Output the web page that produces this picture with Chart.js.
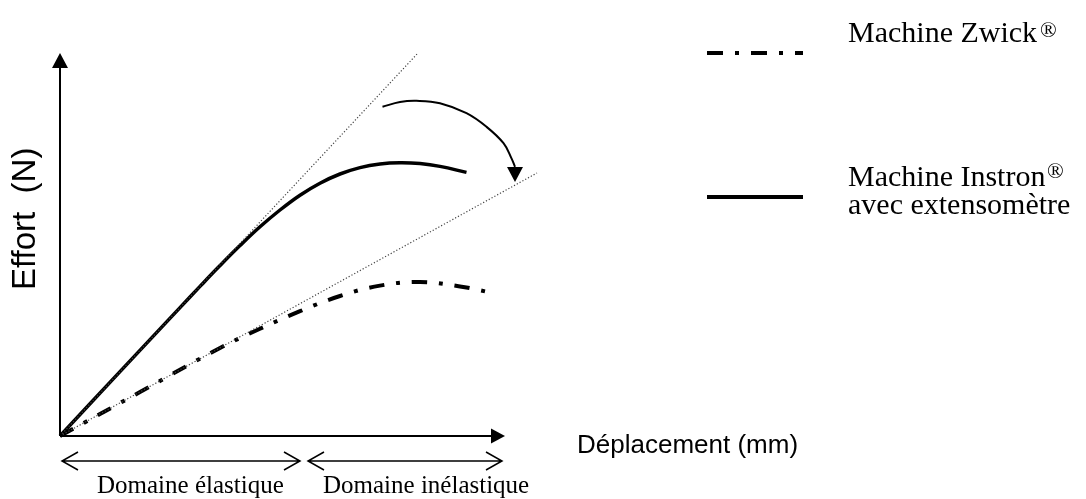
<!DOCTYPE html>
<html>
<head>
<meta charset="utf-8">
<script src="https://cdn.jsdelivr.net/npm/chart.js@4/dist/chart.umd.min.js"></script>
<style>
  body { margin: 0; background: #fff; }
</style>
</head>
<body>
<canvas id="grafico" width="1086" height="499"></canvas>
<script>
// Courbe machine Instron (avec extensomètre)
const deplacementInstron = [0, 12, 24, 28, 32, 36, 40, 44, 48, 52, 56, 60, 64, 68, 72, 76, 81.3];
const effortInstron = [0, 16.1, 32.1, 37.4, 42.6, 47.6, 52.3, 56.5, 60.2, 63.2, 65.5, 67.1, 68.0, 68.3, 68.1, 67.4, 65.9];

// Courbe machine Zwick
const deplacementZwick = [0, 16, 32, 40, 48, 56, 64, 72, 80, 86.4];
const effortZwick = [0, 11, 22, 26.8, 31.2, 35, 37.6, 38.5, 37.4, 35.8];

// Tangentes (pentes élastiques)
const penteInstronX = [0, 71.6];
const penteInstronY = [0, 95.75];
const penteZwickX = [0, 95.4];
const penteZwickY = [0, 65.75];

// Flèche courbe entre les deux pentes
const flecheX = [64.5, 68, 71.3, 76, 81.3, 85.3, 88.7, 90.3, 91];
const flecheY = [82.3, 83.5, 83.8, 83.2, 80.7, 77.3, 73.2, 69.4, 67.3];
const flechePointe = [91, 63.5];

// Axes et domaines
const axeXFin = 89;
const axeYFin = 95.75;
const domaineElastique = [0.4, 48];
const domaineInelastique = [49.6, 88.4];
const niveauDomaines = -6.25;

const legendes = ['Machine Zwick', 'Machine Instron', 'avec extensomètre'];

function points(xs, ys) {
  return xs.map((x, i) => ({ x: x, y: ys[i] }));
}

function triangle(ctx, tx, ty, dx, dy, longueur, demi) {
  const bx = tx - dx * longueur, by = ty - dy * longueur;
  ctx.beginPath();
  ctx.moveTo(tx, ty);
  ctx.lineTo(bx - dy * demi, by + dx * demi);
  ctx.lineTo(bx + dy * demi, by - dx * demi);
  ctx.closePath();
  ctx.fill();
}

function doubleFleche(ctx, x1, x2, y) {
  ctx.beginPath();
  ctx.moveTo(x1, y); ctx.lineTo(x2, y);
  ctx.moveTo(x1 + 16, y - 9); ctx.lineTo(x1, y); ctx.lineTo(x1 + 16, y + 9);
  ctx.moveTo(x2 - 16, y - 9); ctx.lineTo(x2, y); ctx.lineTo(x2 - 16, y + 9);
  ctx.stroke();
}

const dessin = {
  id: 'dessin',
  afterDraw(chart) {
    const ctx = chart.ctx;
    const px = v => chart.scales.x.getPixelForValue(v);
    const py = v => chart.scales.y.getPixelForValue(v);
    ctx.save();
    ctx.strokeStyle = '#000';
    ctx.fillStyle = '#000';

    // axes
    const ox = px(0), oy = py(0);
    const fx = px(axeXFin), fy = py(axeYFin);
    ctx.lineWidth = 2;
    ctx.beginPath();
    ctx.moveTo(ox, oy); ctx.lineTo(fx - 12, oy);
    ctx.moveTo(ox, oy); ctx.lineTo(ox, fy + 12);
    ctx.stroke();
    triangle(ctx, fx, oy, 1, 0, 14, 7.5);
    triangle(ctx, ox, fy, 0, -1, 15, 8);

    // pointe de la flèche courbe
    triangle(ctx, px(flechePointe[0]), py(flechePointe[1]), 0, 1, 15, 8);

    // domaines
    ctx.lineWidth = 1.5;
    const yd = py(niveauDomaines);
    doubleFleche(ctx, px(domaineElastique[0]), px(domaineElastique[1]), yd);
    doubleFleche(ctx, px(domaineInelastique[0]), px(domaineInelastique[1]), yd);

    ctx.textBaseline = 'alphabetic';
    ctx.font = '25px "Liberation Serif", "Times New Roman", serif';
    ctx.fillText('Domaine élastique', 97, 493);
    ctx.fillText('Domaine inélastique', 323, 493);

    // titres des axes
    ctx.font = '26px "Liberation Sans", Arial, sans-serif';
    ctx.fillText('Déplacement (mm)', 577, 453);
    ctx.save();
    ctx.translate(35, 290);
    ctx.rotate(-Math.PI / 2);
    ctx.font = '33px "Liberation Sans", Arial, sans-serif';
    ctx.fillText('Effort  (N)', 0, 0);
    ctx.restore();

    // légende
    ctx.lineWidth = 4;
    ctx.setLineDash([16, 12, 4, 12]);
    ctx.beginPath(); ctx.moveTo(707, 53); ctx.lineTo(803, 53); ctx.stroke();
    ctx.setLineDash([]);
    ctx.beginPath(); ctx.moveTo(707, 197); ctx.lineTo(803, 197); ctx.stroke();

    ctx.font = '30px "Liberation Serif", "Times New Roman", serif';
    ctx.fillText(legendes[0], 848, 42);
    ctx.fillText(legendes[1], 848, 186);
    ctx.fillText(legendes[2], 848, 214);
    ctx.font = '22px "Liberation Serif", "Times New Roman", serif';
    ctx.fillText('®', 1040, 37);
    ctx.fillText('®', 1047, 178);
    ctx.restore();
  }
};

new Chart(document.getElementById('grafico').getContext('2d'), {
  type: 'scatter',
  data: {
    datasets: [
      {
        data: points(penteInstronX, penteInstronY),
        showLine: true, borderColor: '#444', borderWidth: 1.2, borderDash: [1.2, 2],
        pointRadius: 0, clip: false
      },
      {
        data: points(penteZwickX, penteZwickY),
        showLine: true, borderColor: '#444', borderWidth: 1.2, borderDash: [1.2, 2],
        pointRadius: 0, clip: false
      },
      {
        label: 'Machine Zwick',
        data: points(deplacementZwick, effortZwick),
        showLine: true, borderColor: '#000', borderWidth: 4, borderDash: [15, 12, 4, 12],
        tension: 0.4, pointRadius: 0, clip: false
      },
      {
        label: 'Machine Instron',
        data: points(deplacementInstron, effortInstron),
        showLine: true, borderColor: '#000', borderWidth: 3.5,
        tension: 0.4, pointRadius: 0, clip: false
      },
      {
        data: points(flecheX, flecheY),
        showLine: true, borderColor: '#000', borderWidth: 2, tension: 0.4,
        pointRadius: 0, clip: false
      }
    ]
  },
  options: {
    responsive: false,
    animation: false,
    layout: { padding: { left: 60, right: 526, top: 36, bottom: 63 } },
    scales: {
      x: { type: 'linear', min: 0, max: 100, display: false },
      y: { type: 'linear', min: 0, max: 100, display: false }
    },
    plugins: {
      legend: { display: false },
      tooltip: { enabled: false }
    }
  },
  plugins: [dessin]
});
</script>
</body>
</html>
